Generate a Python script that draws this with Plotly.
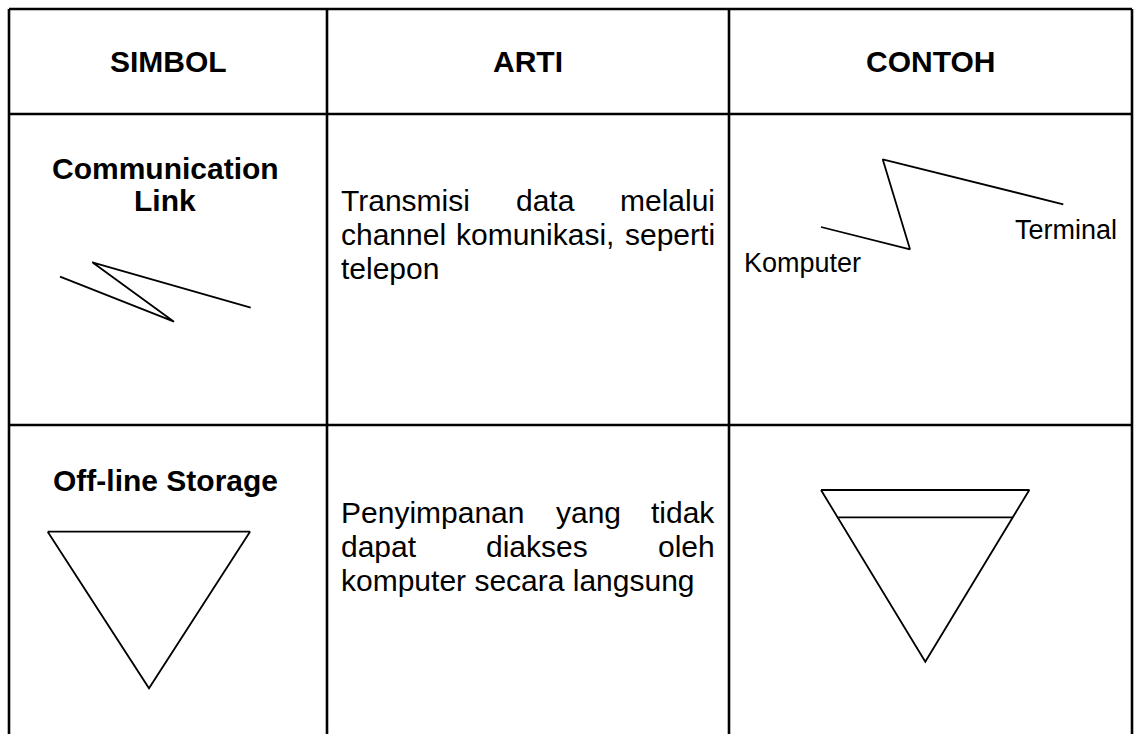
import plotly.graph_objects as go

# ---------------- data ----------------
col_edges = [9, 327, 729, 1132]          # table column borders (px)
row_edges = [9, 114, 425]                # table row borders (px)
table_bottom = 760                       # table continues below the picture

headers = ["SIMBOL", "ARTI", "CONTOH"]
header_y = 61.5

symbol_names = [["Communication", "Link"], ["Off-line Storage"]]
symbol_name_y = [[168.3, 200.0], [480.0]]
symbol_name_x = 165

# Communication link symbol (column SIMBOL)
link_sym_x = [60, 174, 92.3, 250.7]
link_sym_y = [276.7, 321.7, 262.3, 307.7]
# Communication link example (column CONTOH)
link_ex_x = [821, 910, 882.7, 1063.3]
link_ex_y = [227, 249.3, 159.3, 204.3]
link_ex_labels = ["Komputer", "Terminal"]
link_ex_label_x = [744, 1117]
link_ex_label_y = [263, 230]

# Off-line storage symbol (column SIMBOL)
off_sym_x = [47.7, 250, 149, 47.7]
off_sym_y = [531.7, 531.7, 688.3, 531.7]
# Off-line storage example (column CONTOH)
off_ex_x = [821, 1029.3, 925.3, 821]
off_ex_y = [490, 490, 661.7, 490]
off_ex_inner_x = [838.3, 1012.3]
off_ex_inner_y = [517.3, 517.3]

# ARTI column text (justified lines, last line left aligned)
arti_rows = [
    [["Transmisi", "data", "melalui"], ["channel", "komunikasi,", "seperti"], ["telepon"]],
    [["Penyimpanan", "yang", "tidak"], ["dapat", "diakses", "oleh"], ["komputer secara langsung"]],
]
arti_line_y = [[200.4, 234.6, 268.8], [512.8, 546.5, 580.2]]
arti_left, arti_right = 341, 715

FONT = "Liberation Sans, Arial, sans-serif"
BODY_SIZE = 30
HEAD_SIZE = 30
LABEL_SIZE = 27

# Arial / Liberation Sans regular advance widths (per 1000 em)
CW = {'T': 611, 'r': 333, 'a': 556, 'n': 556, 's': 500, 'm': 833, 'i': 222, 'd': 556,
      't': 278, 'e': 556, 'l': 222, 'u': 556, 'c': 500, 'h': 556, 'k': 500, 'o': 556,
      ',': 278, 'p': 556, 'y': 500, 'g': 556, 'P': 667, ' ': 278}


def text_w(s, size):
    return sum(CW.get(ch, 556) for ch in s) * size / 1000.0


fig = go.Figure()

# table grid
grid_w = 2.6
for xe in col_edges:
    fig.add_trace(go.Scatter(x=[xe, xe], y=[row_edges[0], table_bottom], mode="lines",
                             line=dict(color="black", width=grid_w), hoverinfo="skip"))
for ye in row_edges:
    fig.add_trace(go.Scatter(x=[col_edges[0], col_edges[-1]], y=[ye, ye], mode="lines",
                             line=dict(color="black", width=grid_w), hoverinfo="skip"))

# symbols
sym_w = 1.8
for xs, ys in [(link_sym_x, link_sym_y), (link_ex_x, link_ex_y), (off_sym_x, off_sym_y),
               (off_ex_x, off_ex_y), (off_ex_inner_x, off_ex_inner_y)]:
    fig.add_trace(go.Scatter(x=xs, y=ys, mode="lines",
                             line=dict(color="black", width=sym_w), hoverinfo="skip"))

ann = []


def add_text(txt, x, y, size, bold=False, xanchor="center"):
    ann.append(dict(text=("<b>%s</b>" % txt) if bold else txt, x=x, y=y, xref="x", yref="y",
                    showarrow=False, xanchor=xanchor, yanchor="middle",
                    borderpad=0, borderwidth=0,
                    font=dict(family=FONT, size=size, color="black")))


# headers
for i, h in enumerate(headers):
    add_text(h, (col_edges[i] + col_edges[i + 1]) / 2, header_y, HEAD_SIZE, bold=True)

# symbol names
for names, ys in zip(symbol_names, symbol_name_y):
    for n, yy in zip(names, ys):
        add_text(n, symbol_name_x, yy, HEAD_SIZE, bold=True)

# example labels
add_text(link_ex_labels[0], link_ex_label_x[0], link_ex_label_y[0], LABEL_SIZE, xanchor="left")
add_text(link_ex_labels[1], link_ex_label_x[1], link_ex_label_y[1], LABEL_SIZE, xanchor="right")

# ARTI text, justified
for lines, ys in zip(arti_rows, arti_line_y):
    for li, (words, yy) in enumerate(zip(lines, ys)):
        if li == len(lines) - 1 or len(words) == 1:
            add_text(" ".join(words), arti_left, yy, BODY_SIZE, xanchor="left")
            continue
        widths = [text_w(w, BODY_SIZE) for w in words]
        gap = (arti_right - arti_left - sum(widths)) / (len(words) - 1)
        xpos = arti_left
        for wi, (w, ww) in enumerate(zip(words, widths)):
            if wi == len(words) - 1:
                add_text(w, arti_right, yy, BODY_SIZE, xanchor="right")
            else:
                add_text(w, xpos, yy, BODY_SIZE, xanchor="left")
            xpos += ww + gap

fig.update_layout(
    width=1134, height=734, autosize=False,
    margin=dict(l=0, r=0, t=0, b=0, pad=0),
    paper_bgcolor="white", plot_bgcolor="white",
    showlegend=False, annotations=ann,
    xaxis=dict(range=[0, 1134], visible=False, fixedrange=True),
    yaxis=dict(range=[734, 0], visible=False, fixedrange=True),
)

fig.write_html("out.html", config={"displayModeBar": False},
               post_script="document.body.style.margin='0';document.body.style.padding='0';"
                           "document.body.style.overflow='hidden';")
